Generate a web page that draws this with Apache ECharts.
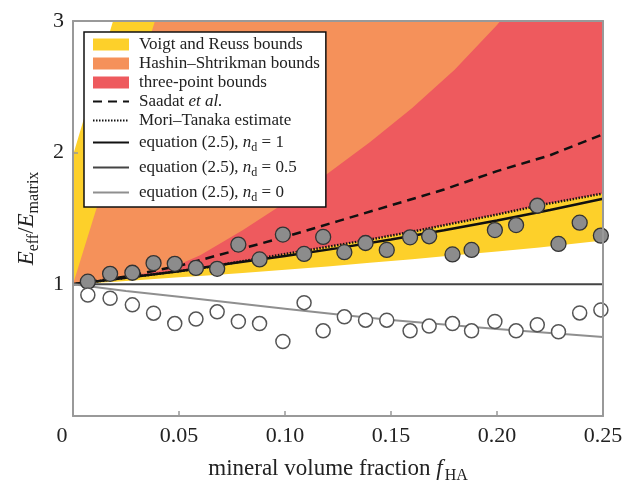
<!DOCTYPE html>
<html>
<head>
<meta charset="utf-8">
<title>E_eff / E_matrix vs mineral volume fraction</title>
<script src="https://cdn.jsdelivr.net/npm/echarts@6/dist/echarts.min.js"></script>
<style>
  html, body { margin: 0; padding: 0; background: #fff; }
  #chart { width: 623px; height: 481px; }
</style>
</head>
<body>
<div id="chart"></div>
<script>
// grid of volume fractions used for the bounds
var fBand = [0, 0.005, 0.01, 0.02, 0.03, 0.04, 0.05, 0.06, 0.08, 0.1, 0.12, 0.14, 0.16, 0.18, 0.2, 0.22, 0.25];
var reuss = [1, 1.005, 1.01, 1.02, 1.031, 1.042, 1.053, 1.064, 1.087, 1.11, 1.136, 1.163, 1.19, 1.22, 1.25, 1.28, 1.333];
var voigt = [1.98, 2.25, 2.52, 3.06, 3.6, 4.14, 4.68, 5.22, 6.3, 7.38, 8.46, 9.54, 10.6, 11.7, 12.8, 13.9, 15.5];
var hsUpper = [1, 1.26, 1.52, 2.03, 2.55, 3.07, 3.59, 4.1, 5.14, 6.17, 7.2, 8.24, 9.27, 10.3, 11.34, 12.37, 13.9];
var moriTanaka = [1, 1.01, 1.02, 1.04, 1.06, 1.08, 1.1, 1.12, 1.175, 1.23, 1.285, 1.34, 1.4, 1.465, 1.53, 1.6, 1.69];
var tpUpper = [1, 1.012, 1.025, 1.048, 1.072, 1.1, 1.15, 1.22, 1.41, 1.62, 1.84, 2.08, 2.34, 2.63, 2.97, 3.35, 4.0];

// grid of volume fractions used for the model curves
var fLine = [0, 0.025, 0.05, 0.075, 0.1, 0.125, 0.15, 0.175, 0.2, 0.225, 0.25];
var saadat = [1, 1.06, 1.14, 1.25, 1.36, 1.48, 1.6, 1.72, 1.86, 1.98, 2.14];
var eqNd1 = [1, 1.05, 1.1, 1.16, 1.215, 1.275, 1.34, 1.41, 1.485, 1.565, 1.65];
var eqNd05 = [1, 1, 1, 1, 1, 1, 1, 1, 1, 1, 1];
var eqNd0 = [1, 0.95, 0.905, 0.86, 0.815, 0.77, 0.73, 0.695, 0.66, 0.63, 0.6];

// measured points
var fPts = [0.007, 0.0175, 0.028, 0.038, 0.048, 0.058, 0.068, 0.078, 0.088, 0.099, 0.109, 0.118, 0.128,
            0.138, 0.148, 0.159, 0.168, 0.179, 0.188, 0.199, 0.209, 0.219, 0.229, 0.239, 0.249];
var filledPts = [1.02, 1.08, 1.088, 1.161, 1.156, 1.125, 1.118, 1.302, 1.189, 1.378, 1.231, 1.36, 1.244,
                 1.314, 1.261, 1.357, 1.365, 1.227, 1.261, 1.412, 1.45, 1.597, 1.307, 1.468, 1.37];
var openPts = [0.919, 0.894, 0.844, 0.781, 0.702, 0.736, 0.791, 0.718, 0.702, 0.566, 0.861, 0.647, 0.753,
               0.728, 0.728, 0.647, 0.683, 0.702, 0.647, 0.718, 0.647, 0.693, 0.64, 0.783, 0.806];

var xTicks = [0, 0.05, 0.1, 0.15, 0.2, 0.25];
var yTicks = [0, 1, 2, 3];

var legendText = {
  'Saadat et al.': 'Saadat {i|et al.}',
  'eq1': 'equation (2.5), {i|n}{s|d} = 1',
  'eq05': 'equation (2.5), {i|n}{s|d} = 0.5',
  'eq0': 'equation (2.5), {i|n}{s|d} = 0'
};

var YELLOW = '#fdd02a', ORANGE = '#f5915a', RED = '#ee5a5e';
var SERIF = 'Liberation Serif';

function zip(xs, ys) { return xs.map(function (x, i) { return [x, ys[i]]; }); }

// filled region between two bounds, drawn as one polygon through the axes' scales
function band(name, lo, hi, color) {
  var rows = fBand.map(function (f, i) { return [f, lo[i], hi[i]]; });
  return {
    name: name, type: 'custom', silent: true, z: 1, clip: true,
    itemStyle: { color: color },
    data: rows,
    encode: { x: 0, y: [1, 2] },
    renderItem: function (params, api) {
      if (params.dataIndex !== 0) return null;
      var top = rows.map(function (r) { return api.coord([r[0], r[2]]); });
      var bottom = rows.map(function (r) { return api.coord([r[0], r[1]]); }).reverse();
      var cs = params.coordSys;
      return {
        type: 'polygon',
        shape: { points: top.concat(bottom) },
        style: { fill: color },
        clipPath: { type: 'rect', shape: { x: cs.x, y: cs.y, width: cs.width, height: cs.height } }
      };
    }
  };
}
function curve(name, xs, ys, color, width, type, z) {
  return { name: name, type: 'line', data: zip(xs, ys), symbol: 'none', silent: true,
           itemStyle: { color: color }, lineStyle: { color: color, width: width, type: type }, z: z };
}
function lineItem(name) { return { name: name, itemStyle: { opacity: 0 } }; }

var myChart = echarts.init(document.getElementById('chart'), null, { renderer: 'canvas' });

var frame = { show: true, onZero: false, lineStyle: { color: '#999', width: 2 } };

var option = {
  backgroundColor: '#fff',
  animation: false,
  textStyle: { fontFamily: SERIF },
  grid: { left: 73, right: 20, top: 21, bottom: 65, outerBoundsMode: 'none', containLabel: false },
  legend: {
    orient: 'vertical',
    left: 84, top: 32,
    padding: [4, 6, 3, 8],
    backgroundColor: '#fff',
    borderColor: '#111',
    borderWidth: 1.5,
    borderRadius: 0,
    itemWidth: 36, itemHeight: 12, itemGap: 2,
    selectedMode: false,
    z: 20,
    textStyle: {
      fontFamily: SERIF, fontSize: 17, color: '#222', lineHeight: 17, padding: [0, 0, 0, 5],
      rich: {
        i: { fontFamily: SERIF, fontSize: 17, fontStyle: 'italic', color: '#222', lineHeight: 17 },
        s: { fontFamily: SERIF, fontSize: 12, color: '#222', lineHeight: 12, padding: [11, 0, 0, 0] }
      }
    },
    formatter: function (name) { return legendText[name] || name; },
    data: [
      { name: 'Voigt and Reuss bounds', icon: 'rect' },
      { name: 'Hashin–Shtrikman bounds', icon: 'rect' },
      { name: 'three-point bounds', icon: 'rect' },
      lineItem('Saadat et al.'), lineItem('Mori–Tanaka estimate'),
      lineItem('eq1'), lineItem('eq05'), lineItem('eq0')
    ]
  },
  xAxis: [{
    type: 'value', position: 'bottom', min: xTicks[0], max: xTicks[xTicks.length - 1], interval: 0.05,
    z: 10, axisLine: frame,
    axisTick: { inside: true, length: 5, lineStyle: { color: '#999', width: 1.5 } },
    splitLine: { show: false },
    axisLabel: {
      fontFamily: SERIF, fontSize: 22, color: '#222', margin: 9,
      formatter: function (v) { return v === 0 ? '{z|0}' : v.toFixed(2); },
      rich: { z: { fontFamily: SERIF, fontSize: 22, color: '#222', padding: [0, 22, 0, 0] } }
    },
    name: '{n|mineral volume fraction }{i|f}{s|HA}',
    nameLocation: 'middle', nameGap: 41,
    nameTextStyle: {
      rich: {
        n: { fontFamily: SERIF, fontSize: 23, color: '#222', lineHeight: 23 },
        i: { fontFamily: SERIF, fontSize: 23, fontStyle: 'italic', color: '#222', lineHeight: 23, padding: [0, 2, 0, 0] },
        s: { fontFamily: SERIF, fontSize: 16, color: '#222', lineHeight: 16, padding: [14, 0, 0, 0] }
      }
    }
  }, {
    type: 'value', position: 'top', min: 0, max: 0.25, interval: 0.05, z: 10,
    axisLine: frame, axisTick: { show: false }, axisLabel: { show: false }, splitLine: { show: false }
  }],
  yAxis: [{
    type: 'value', position: 'left', min: yTicks[0], max: yTicks[yTicks.length - 1], interval: 1,
    z: 10, axisLine: frame,
    axisTick: { inside: true, length: 5, lineStyle: { color: '#999', width: 1.5 } },
    splitLine: { show: false },
    axisLabel: {
      fontFamily: SERIF, fontSize: 22, color: '#222', margin: 9,
      formatter: function (v) { return v === 0 ? '' : String(v); }
    },
    name: '{i|E}{s|eff}{n|/}{i|E}{s|matrix}',
    nameLocation: 'middle', nameGap: 30,
    nameTextStyle: {
      rich: {
        n: { fontFamily: SERIF, fontSize: 23, color: '#222', lineHeight: 23 },
        i: { fontFamily: SERIF, fontSize: 23, fontStyle: 'italic', color: '#222', lineHeight: 23 },
        s: { fontFamily: SERIF, fontSize: 16, color: '#222', lineHeight: 16, padding: [14, 0, 0, 0] }
      }
    }
  }, {
    type: 'value', position: 'right', min: 0, max: 3, interval: 1, z: 10,
    axisLine: frame, axisTick: { show: false }, axisLabel: { show: false }, splitLine: { show: false }
  }],
  series: [
    band('Voigt and Reuss bounds', reuss, voigt, YELLOW),
    band('Hashin–Shtrikman bounds', moriTanaka, hsUpper, ORANGE),
    band('three-point bounds', moriTanaka, tpUpper, RED),
    curve('Saadat et al.', fLine, saadat, '#111', 2.5, [9, 6], 3),
    curve('eq1', fLine, eqNd1, '#111', 2.5, 'solid', 3),
    curve('Mori–Tanaka estimate', fBand, moriTanaka, '#111', 2.5, [1.5, 1.5], 3),
    curve('eq05', fLine, eqNd05, '#444', 2, 'solid', 3),
    curve('eq0', fLine, eqNd0, '#8f8f8f', 2, 'solid', 3),
    {
      type: 'scatter', data: zip(fPts, filledPts), symbol: 'circle', symbolSize: 15, silent: true, z: 5,
      itemStyle: { color: '#8c8c8c', borderColor: '#333', borderWidth: 1.3, opacity: 1 }
    },
    {
      type: 'scatter', data: zip(fPts, openPts), symbol: 'circle', symbolSize: 14, silent: true, z: 5,
      itemStyle: { color: '#fff', borderColor: '#555', borderWidth: 1.5, opacity: 1 }
    }
  ]
};

myChart.setOption(option);
</script>
</body>
</html>
